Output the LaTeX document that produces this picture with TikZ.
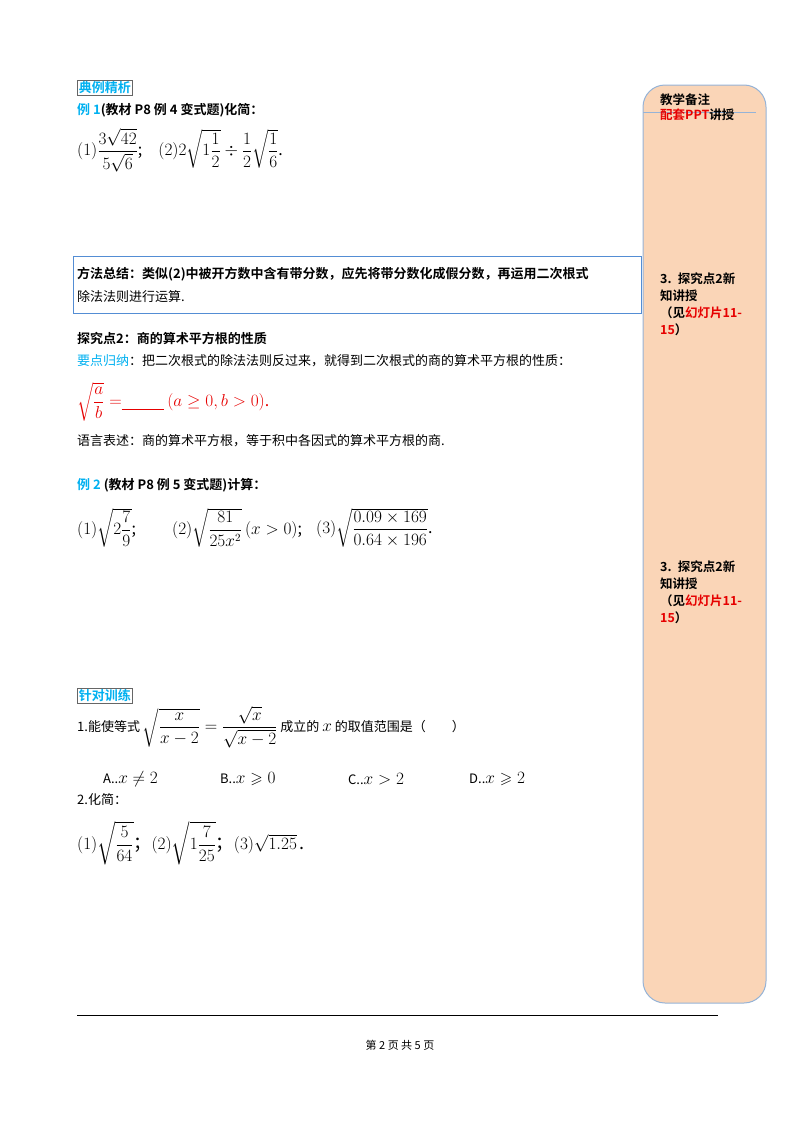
\documentclass[tikz,border=0pt]{standalone}
\usepackage{fontspec}
\usepackage{amsmath,amssymb}
\setmainfont{Liberation Serif}
\newfontfamily\cjk{Noto Sans CJK SC}
\newfontfamily\cjkb{Noto Sans CJK SC Bold}
\definecolor{cyanb}{RGB}{0,176,240}
\definecolor{peach}{RGB}{250,213,183}
\definecolor{sideblue}{RGB}{149,179,215}
\definecolor{boxblue}{RGB}{84,141,212}
\definecolor{redt}{RGB}{230,0,0}
\newcommand{\mymath}{\fontsize{16}{18}\selectfont}
\tikzset{
 txt/.style={anchor=west,inner sep=0pt,font=\fontsize{13}{15}\selectfont\cjk},
 tag/.style={anchor=west,inner sep=1.5pt,draw=gray!80!black,line width=0.8pt,text=cyanb,font=\fontsize{13}{15}\selectfont\cjkb},
 side/.style={anchor=north west,inner sep=0pt,align=left,font=\fontsize{12.5}{17}\selectfont\cjkb,text width=90pt}
}
\begin{document}
\begin{tikzpicture}[x=1pt,y=-1pt]
\useasboundingbox (0,0) rectangle (800,1132);
% sidebar
\draw[sideblue,fill=peach,line width=1pt,rounded corners=22pt] (643,85) rectangle (766,1003);
\draw[sideblue,line width=1pt] (643,112) -- (756,112);
\node[side] (s0) at (660,94) {教学备注\\[-2pt]{\color{redt}配套PPT}讲授};
\node[side] (s1) at (660,273) {3. 探究点2新\\知讲授\\（见{\color{redt}幻灯片11-}\\{\color{redt}15}）};
\node[side] (s2) at (660,561) {3. 探究点2新\\知讲授\\（见{\color{redt}幻灯片11-}\\{\color{redt}15}）};
% section 1
\node[tag] (t1) at (77,88) {典例精析};
\node[txt] (e1) at (77,110) {\cjkb{\color{cyanb}例 1}(教材 P8 例 4 变式题)化简：};
\node[txt] (m1) at (77,150) {\mymath $(1)\dfrac{3\sqrt{42}}{5\sqrt{6}}$;\quad $(2)2\sqrt{1\dfrac{1}{2}}\div\dfrac{1}{2}\sqrt{\dfrac{1}{6}}$.};
% method box
\draw[boxblue,line width=0.8pt] (73,256) rectangle (641,313);
\node[txt] (f1) at (77,274) {\cjkb{方法总结：}类似(2)中被开方数中含有带分数，应先将带分数化成假分数，再运用二次根式};
\node[txt] (f2) at (77,297) {除法法则进行运算.};
% point 2
\node[txt] (p2) at (77,338) {\cjkb{探究点2：商的算术平方根的性质}};
\node[txt] (p3) at (77,361) {{\color{cyanb}要点归纳}：把二次根式的除法法则反过来，就得到二次根式的商的算术平方根的性质：};
\node[txt,text=redt] (p4) at (77,402) {\mymath $\sqrt{\dfrac{a}{b}}=$\underline{\hspace{42pt}}\ $(a\geq 0,b>0)$.};
\node[txt] (p5) at (77,441) {语言表述：商的算术平方根，等于积中各因式的算术平方根的商.};
% example 2
\node[txt] (e2) at (77,485) {\cjkb{\color{cyanb}例 2} \cjkb{(教材 P8 例 5 变式题)计算：}};
\node[txt] (m2) at (77,528) {\mymath $(1)\sqrt{2\dfrac{7}{9}}$;};
\node[txt] (m3) at (172,528) {\mymath $(2)\sqrt{\dfrac{81}{25x^2}}\left(x>0\right)$;};
\node[txt] (m4) at (316,528) {\mymath $(3)\sqrt{\dfrac{0.09\times169}{0.64\times196}}$.};
% practice
\node[tag] (t2) at (77,696) {针对训练};
\node[txt] (q1) at (77,727) {1.能使等式 {\mymath$\sqrt{\dfrac{x}{x-2}}=\dfrac{\sqrt{x}}{\sqrt{x-2}}$} 成立的 {\mymath$x$} 的取值范围是（\qquad）};
\node[txt] (qa) at (103,779) {A..{\mymath$x\neq2$}};
\node[txt] (qb) at (220,779) {B..{\mymath$x\geqslant0$}};
\node[txt] (qc) at (348,779) {C..{\mymath$x>2$}};
\node[txt] (qd) at (469,779) {D..{\mymath$x\geqslant2$}};
\node[txt] (q2) at (77,800) {2.化简：};
\node[txt] (q3) at (77,843) {\fontsize{18}{20}\selectfont $(1)\sqrt{\dfrac{5}{64}}$；$(2)\sqrt{1\dfrac{7}{25}}$；$(3)\sqrt{1.25}$\,.};
% footer
\draw[line width=0.8pt] (77,1015) -- (718,1015);
\node[inner sep=0pt,font=\fontsize{11}{13}\selectfont\cjk] (ft) at (400,1045) {第 2 页 共 5 页};
\end{tikzpicture}
\end{document}
